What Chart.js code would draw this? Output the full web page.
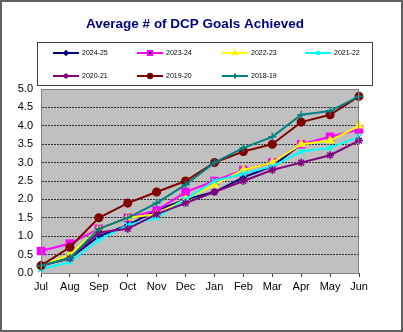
<!DOCTYPE html>
<html>
<head>
<meta charset="utf-8">
<script src="https://cdn.jsdelivr.net/npm/chart.js@4"></script>
<style>
  html, body { margin: 0; padding: 0; background: #fff; }
  #wrap { position: relative; width: 403px; height: 332px; }
</style>
</head>
<body>
<div id="wrap"><canvas id="c" width="403" height="332"></canvas></div>
<script>
const months = ['Jul', 'Aug', 'Sep', 'Oct', 'Nov', 'Dec', 'Jan', 'Feb', 'Mar', 'Apr', 'May', 'Jun']
const yTicks = [0, 0.5, 1, 1.5, 2, 2.5, 3, 3.5, 4, 4.5, 5]

const y2425 = [0.2, 0.4, 1.0, 1.3, 1.7, 2.0, 2.2, 2.6, 2.9, 3.5, null, null]
const y2324 = [0.6, 0.8, 1.2, 1.5, 1.7, 2.2, 2.5, 2.8, 3.0, 3.5, 3.7, 3.9]
const y2223 = [0.2, 0.5, 1.2, 1.5, 1.6, 2.0, 2.4, 2.8, 3.0, 3.5, 3.6, 4.0]
const y2122 = [0.1, 0.3, 0.9, 1.3, 1.5, 2.0, 2.5, 2.7, 2.9, 3.3, 3.4, 3.7]
const y2021 = [0.2, 0.4, 1.1, 1.2, 1.6, 1.9, 2.2, 2.5, 2.8, 3.0, 3.2, 3.6]
const y1920 = [0.2, 0.7, 1.5, 1.9, 2.2, 2.5, 3.0, 3.3, 3.5, 4.1, 4.3, 4.8]
const y1819 = [0.2, 0.4, 1.2, 1.5, 1.9, 2.4, 3.0, 3.4, 3.7, 4.3, 4.4, 4.8]

const series = [
    { label: '2024-25', data: y2425, color: '#000080', style: 'rectRot', r: 3 },
    { label: '2023-24', data: y2324, color: '#FF00FF', style: 'rect', r: 5 },
    { label: '2022-23', data: y2223, color: '#FFFF00', style: 'triangle', r: 4 },
    { label: '2021-22', data: y2122, color: '#00FFFF', style: 'crossRot', r: 4 },
    { label: '2020-21', data: y2021, color: '#800080', style: 'star', r: 4 },
    { label: '2019-20', data: y1920, color: '#800000', style: 'circle', r: 3.8 },
    { label: '2018-19', data: y1819, color: '#008080', style: 'cross', r: 4 }
]

const decor = {
    id: 'decor',
    beforeDraw (chart) {
        const { ctx, chartArea: a } = chart
        ctx.save()
        ctx.fillStyle = '#C0C0C0'
        ctx.fillRect(a.left, a.top, a.right - a.left, a.bottom - a.top)
        ctx.restore()
    },
    afterDraw (chart) {
        const { ctx, chartArea: a } = chart
        ctx.save()
        // plot frame
        ctx.strokeStyle = '#808080'
        ctx.lineWidth = 1
        ctx.strokeRect(a.left + 0.5, a.top + 0.5, a.right - a.left - 1, a.bottom - a.top)
        // outer frame
        ctx.strokeStyle = '#606060'
        ctx.lineWidth = 2
        ctx.strokeRect(1, 1, 401, 330)
        // title
        ctx.fillStyle = '#000080'
        ctx.font = 'bold 13.5px Arial, "Liberation Sans", sans-serif'
        ctx.textAlign = 'center'
        ctx.textBaseline = 'middle'
        ctx.fillText('Average # of DCP Goals Achieved', 195, 24)
        // legend box
        ctx.fillStyle = '#fff'
        ctx.fillRect(37, 42, 336, 44)
        ctx.strokeStyle = '#404040'
        ctx.lineWidth = 1
        ctx.strokeRect(37.5, 42.5, 335, 43)
        const cols = [53, 137, 222, 305]
        const rows = [53, 76]
        ctx.font = '7px Arial, "Liberation Sans", sans-serif'
        ctx.textAlign = 'left'
        chart.data.datasets.forEach((ds, i) => {
            const x = cols[i % 4]
            const y = rows[Math.floor(i / 4)]
            ctx.strokeStyle = ds.borderColor
            ctx.lineWidth = 2
            ctx.beginPath()
            ctx.moveTo(x, y)
            ctx.lineTo(x + 26, y)
            ctx.stroke()
            Chart.helpers.drawPoint(ctx, {
                pointStyle: ds.pointStyle, radius: ds.pointRadius * 0.6,
                borderWidth: 1.5, rotation: 0
            }, x + 13, y)
            ctx.fillStyle = '#000'
            ctx.fillText(ds.label, x + 29, y + 0.5)
        })
        ctx.restore()
    }
}

new Chart(document.getElementById('c'), {
    type: 'line',
    data: {
        labels: months,
        datasets: series.map((s, i) => ({
            label: s.label,
            data: s.data,
            borderColor: s.color,
            backgroundColor: s.color,
            pointBackgroundColor: s.color,
            pointBorderColor: s.color,
            pointStyle: s.style,
            pointRadius: s.r,
            pointBorderWidth: 1.5,
            borderWidth: 2,
            tension: 0,
            spanGaps: false,
            order: series.length - i
        }))
    },
    options: {
        responsive: false,
        animation: false,
        devicePixelRatio: 1,
        layout: { padding: { left: 0, top: 89, right: 44, bottom: 0 } },
        plugins: {
            legend: { display: false },
            title: { display: false },
            tooltip: { enabled: false }
        },
        scales: {
            x: {
                offset: false,
                afterFit: (s) => { s.height = 59 },
                grid: { drawOnChartArea: false, drawTicks: true, tickLength: 4, color: '#404040' },
                border: { display: true, color: '#404040' },
                ticks: { color: '#000', padding: 3, maxRotation: 0, autoSkip: false,
                    font: { family: 'Arial, "Liberation Sans", sans-serif', size: 11 } }
            },
            y: {
                min: 0,
                max: 5,
                afterFit: (s) => { s.width = 41 },
                afterBuildTicks: (s) => { s.ticks = yTicks.map(v => ({ value: v })) },
                grid: { color: '#303030', tickLength: 4, drawTicks: false },
                border: { display: true, color: '#606060', dash: [2, 1] },
                ticks: { color: '#000', padding: 8,
                    callback: (v) => Number(v).toFixed(1),
                    font: { family: 'Arial, "Liberation Sans", sans-serif', size: 11 } }
            }
        }
    },
    plugins: [decor]
})
</script>
</body>
</html>
